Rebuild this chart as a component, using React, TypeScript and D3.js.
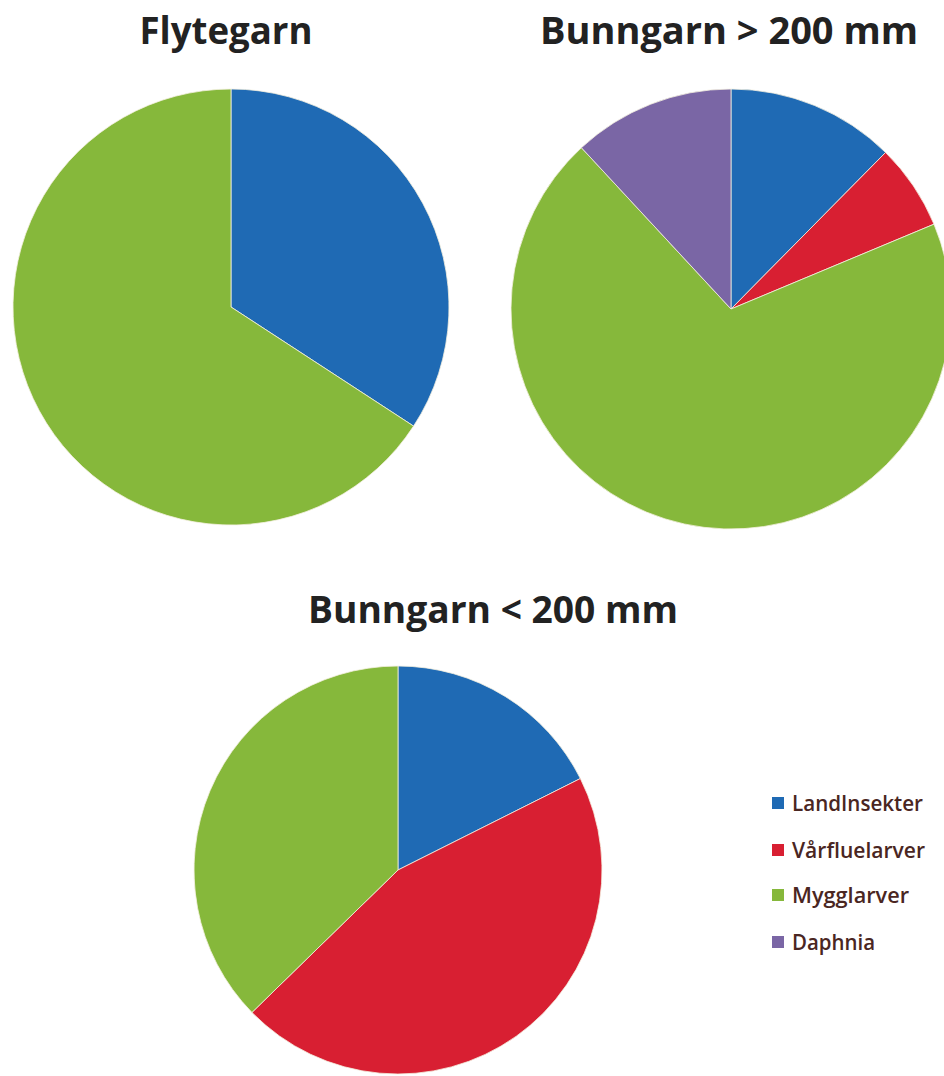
import React from "react";
import * as d3 from "d3";

const categories = ["LandInsekter", "Vårfluelarver", "Mygglarver", "Daphnia"];
const colors = ["#1f6ab4", "#d81f32", "#86b83b", "#7a66a5"];

const flytegarn = [34.2, 0, 65.8, 0];
const bunngarnOver = [12.4, 6.3, 69.4, 11.9];
const bunngarnUnder = [17.6, 45.1, 37.3, 0];

const titles = ["Flytegarn", "Bunngarn > 200 mm", "Bunngarn < 200 mm"];

const pies = [
  { title: titles[0], values: flytegarn, cx: 231, cy: 307, r: 218, tx: 226, ty: 44, tw: 173 },
  { title: titles[1], values: bunngarnOver, cx: 731, cy: 309, r: 220, tx: 729, ty: 44, tw: 378 },
  { title: titles[2], values: bunngarnUnder, cx: 398, cy: 870, r: 204, tx: 493, ty: 623, tw: 370 },
];

const legendRows = [803, 850, 895, 942];
const legendWidths = [131, 133, 117, 83];

export default function App() {
  const pieGen = d3.pie<number>().sort(null).value((d) => d);
  return (
    <div style={{ position: "absolute", left: 0, top: 0 }}>
      <svg width={944} height={1076} style={{ display: "block", background: "#fff" }}>
        {pies.map((p, pi) => {
          const arcs = pieGen(p.values);
          const arcGen = d3.arc<d3.PieArcDatum<number>>().innerRadius(0).outerRadius(p.r);
          return (
            <g key={pi}>
              <g transform={`translate(${p.cx},${p.cy})`}>
                {arcs.map((a, i) =>
                  a.value > 0 ? (
                    <path key={i} d={arcGen(a) || ""} fill={colors[i]} stroke="#f4f0e0" strokeWidth={0.8} />
                  ) : null
                )}
              </g>
              <text
                x={p.tx}
                y={p.ty}
                textAnchor="middle"
                fontFamily="'Open Sans', sans-serif"
                fontWeight={700}
                fontSize={37}
                fill="#222"
                textLength={p.tw}
                lengthAdjust="spacingAndGlyphs"
              >
                {p.title}
              </text>
            </g>
          );
        })}
        {categories.map((c, i) => (
          <g key={c}>
            <rect x={772} y={legendRows[i] - 6} width={12} height={12} fill={colors[i]} />
            <text
              x={792}
              y={legendRows[i] + 8}
              fontFamily="'Open Sans', sans-serif"
              fontWeight={600}
              fontSize={21}
              fill="#4a2622"
              textLength={legendWidths[i]}
              lengthAdjust="spacingAndGlyphs"
            >
              {c}
            </text>
          </g>
        ))}
      </svg>
    </div>
  );
}
